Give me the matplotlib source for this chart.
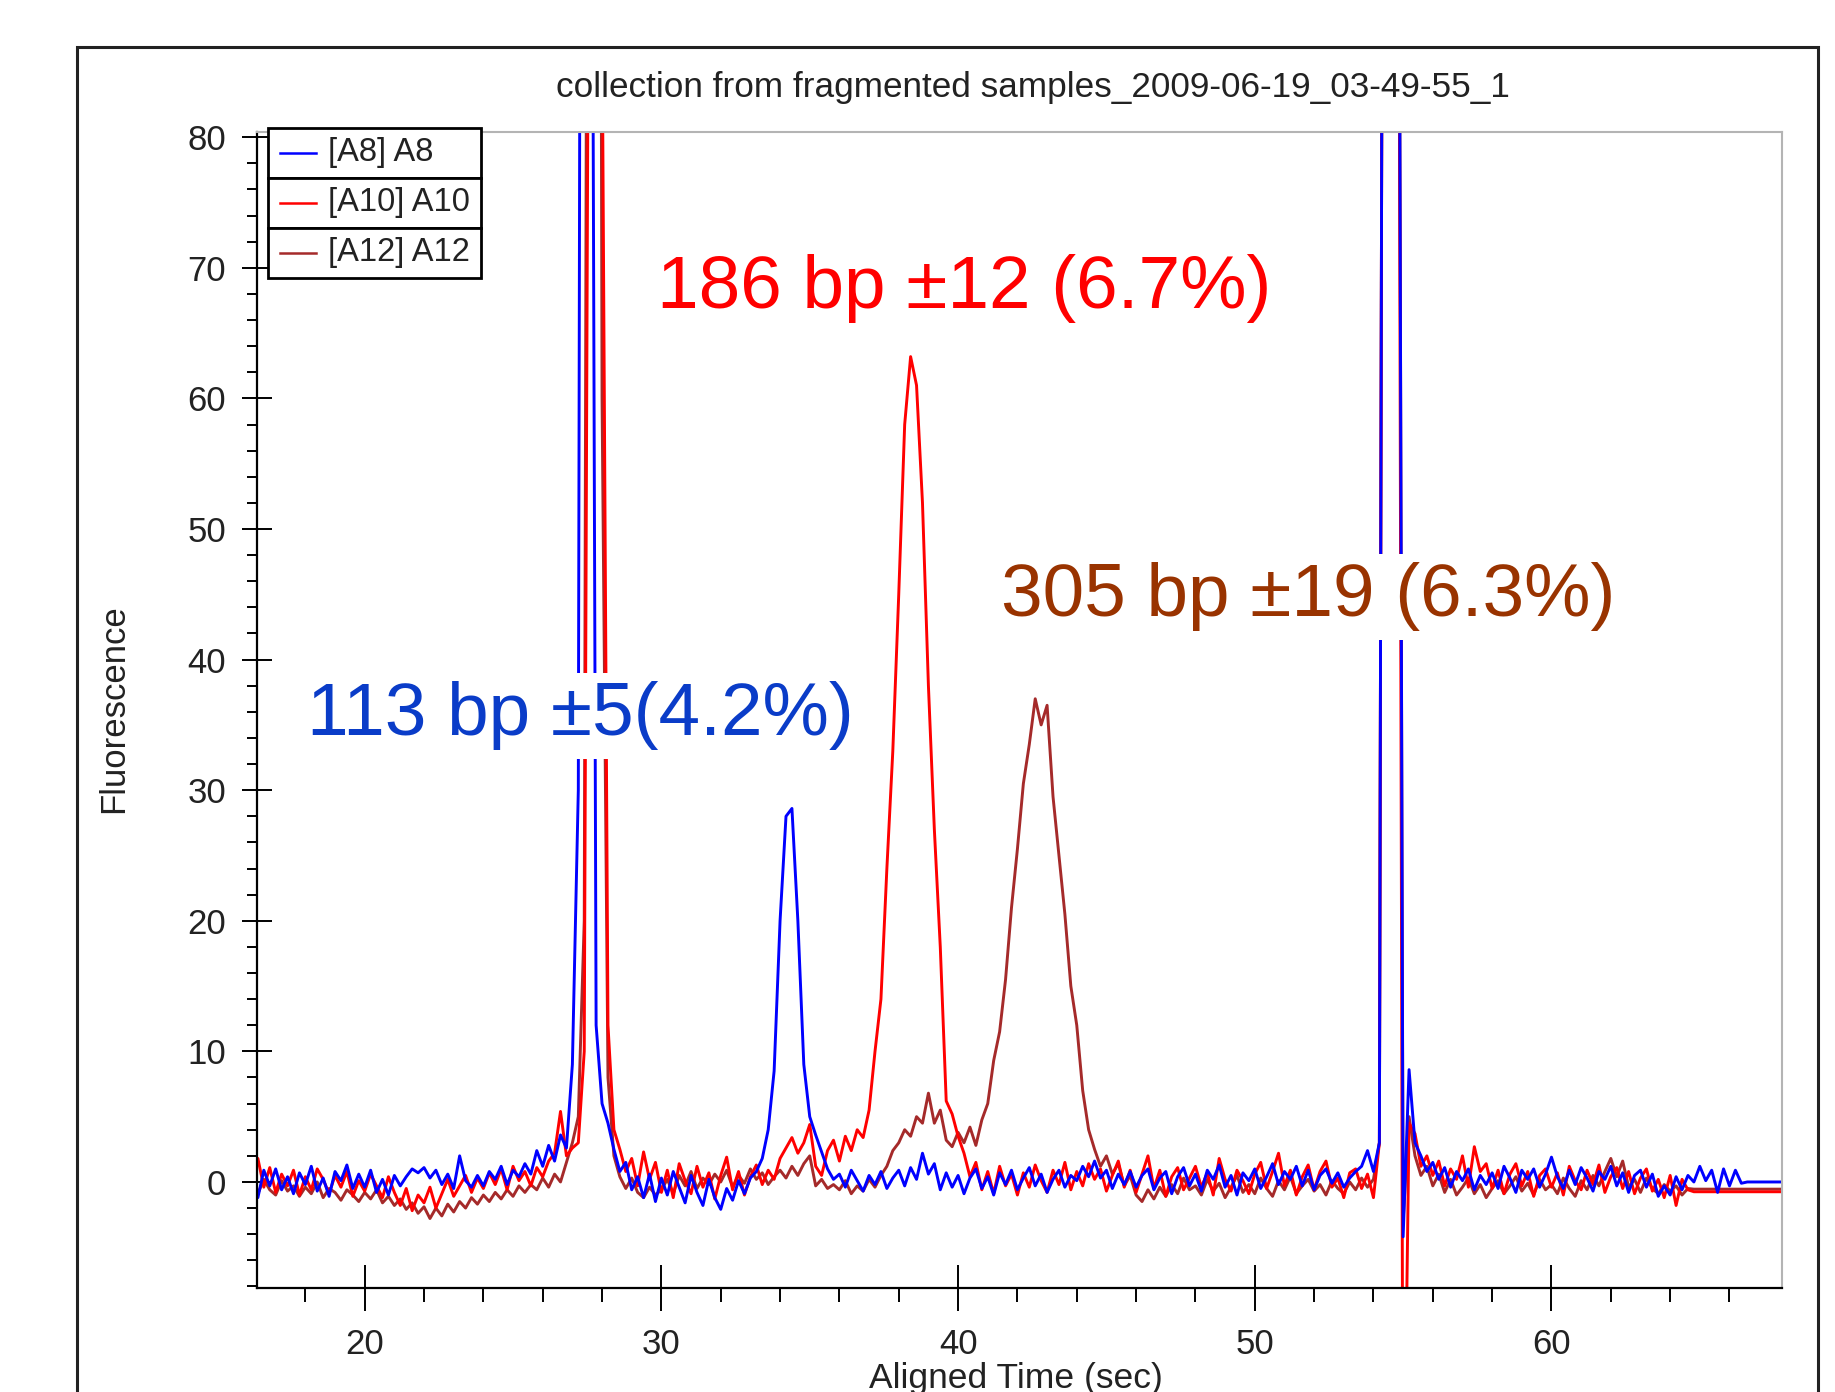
import numpy as np
import matplotlib
matplotlib.use('Agg')
import matplotlib.pyplot as plt
from matplotlib.patches import Rectangle
from matplotlib.lines import Line2D
from matplotlib.ticker import MultipleLocator

plt.rcParams['font.family'] = ['Liberation Sans', 'DejaVu Sans']

# traces are sampled every 0.2 s starting at 16.0 s (one row = 2 s)
t_start = 16.0
t_step = 0.2

a8 = [
    -0.8, 0.5, -1.2, 0.9, -0.3, 1.0, -0.6, 0.4, -0.9, 0.7,
    -0.2, 1.2, -0.7, 0.3, -1.1, 0.8, 0.1, 1.3, -0.5, 0.6,
    -0.4, 0.9, -0.8, 0.2, -1.0, 0.5, -0.3, 0.4, 1.0, 0.7,
    1.1, 0.3, 0.9, -0.2, 0.6, -0.5, 2.0, 0.1, -0.4, 0.5,
    -0.3, 0.8, 0.2, 1.2, -0.2, 0.9, 0.4, 1.4, 0.6, 2.4,
    1.2, 2.8, 1.6, 3.6, 2.6, 9.0, 30, 250, 150, 12,
    6.0, 4.5, 2.5, 0.8, 1.5, -0.6, 0.4, -1.2, 0.6, -1.5,
    0.3, -1.0, 0.8, -0.4, -1.6, 0.5, -0.8, -1.8, 0.2, -1.2,
    -2.1, -0.5, -1.4, 0.1, -0.9, 0.3, 0.8, 1.8, 4.0, 8.5,
    20, 28, 28.6, 20, 9.0, 5.0, 3.6, 2.3, 1.0, 0.2,
    0.6, -0.4, 0.9, 0.1, -0.7, 0.5, -0.2, 0.8, -0.5, 0.3,
    0.9, -0.3, 1.1, 0.2, 2.2, 0.6, 1.4, -0.6, 0.7, -0.4,
    0.5, -0.9, 0.3, 1.0, -0.5, 0.4, -1.0, 0.7, -0.2, 0.9,
    -0.6, 0.3, 1.1, -0.3, 0.6, -0.8, 0.2, 0.9, -0.4, 0.5,
    0.1, 1.2, 0.4, 1.6, 0.3, 0.9, -0.5, 0.6, -0.2, 0.8,
    -0.4, 0.5, 1.0, -0.6, 0.3, 0.8, -0.9, 0.4, 1.1, -0.3,
    0.6, -0.7, 0.9, 0.2, 1.3, -0.4, 0.5, -1.0, 0.7, 0.1,
    1.0, -0.5, 0.4, 1.4, -0.2, 0.8, 0.2, 1.2, -0.3, 0.9,
    -0.6, 0.5, 1.0, -0.1, 0.7, -0.4, 0.3, 0.8, 1.2, 2.4,
    0.8, 3.0, 200, 200, 150, -4.2, 8.6, 3.0, 2.0, 0.8,
    1.5, 0.2, 1.1, -0.4, 0.8, 0.1, 1.0, -0.6, 0.5, -0.2,
    0.7, -0.5, 1.2, 0.3, -0.8, 0.9, 0.2, 1.0, -0.4, 0.6,
    1.9, 0.4, -0.5, 0.9, -0.2, 1.1, 0.3, -0.7, 0.8, 0.2,
    1.2, -0.3, 0.7, -0.8, 0.5, 0.9, -0.4, 0.6, -1.1, -0.3,
    -1.0, 0.4, -0.6, 0.5, 0.0, 1.2, 0.1, 0.9, -0.8, 1.0,
    -0.3, 0.9, -0.1, 0.0, 0.0, 0.0, 0.0, 0.0, 0.0, 0.0,
]

a10 = [
    1.5, 0.3, 1.8, -0.4, 1.1, -0.8, 0.6, -0.3, 0.9, -1.0,
    0.4, -0.6, 1.0, 0.2, -0.9, 0.5, -0.4, 0.8, -1.1, 0.1,
    -0.7, 0.6, -0.3, -1.2, 0.4, -0.8, -1.8, -0.5, -2.2, -1.0,
    -1.6, -0.4, -2.0, -0.9, 0.2, -1.1, -0.3, 0.5, -0.8, 0.3,
    -0.5, 0.7, -0.2, 1.0, -0.6, 1.2, 0.1, 0.8, -0.3, 1.1,
    0.4, 1.6, 2.2, 5.4, 2.0, 2.6, 3.0, 10, 130, 300,
    90, 12, 4.0, 2.5, 0.8, 1.8, -0.3, 2.3, 0.2, 1.5,
    -0.8, 0.9, -1.2, 1.4, 0.1, -0.9, 1.2, -0.4, 0.7, -1.3,
    0.5, 1.9, -0.6, 0.8, -1.0, 0.4, 1.3, -0.2, 0.9, 0.2,
    1.8, 2.6, 3.4, 2.2, 3.0, 4.4, 1.2, 0.5, 2.4, 3.2,
    1.6, 3.5, 2.4, 4.0, 3.4, 5.5, 10, 14, 24, 33,
    45, 58, 63.2, 61, 52, 38, 27, 18, 6.2, 5.2,
    3.5, 2.2, 0.4, 1.5, -0.6, 0.8, -0.9, 1.2, -0.3, 0.6,
    -1.0, 0.7, -0.4, 1.3, 0.1, -0.8, 0.9, -0.2, 1.5, -0.6,
    0.8, -0.3, 1.4, 0.2, 1.0, -0.7, 0.5, 1.6, -0.4, 0.9,
    -0.8, 0.6, 2.0, -0.5, 0.9, -1.1, 0.4, 1.1, -0.6, 0.3,
    1.2, -0.4, 0.7, -1.0, 1.8, 0.2, -0.7, 0.9, 0.1, -0.9,
    0.6, 1.5, -0.5, 0.8, 2.2, -0.3, 0.9, -1.0, 0.4, 1.3,
    -0.6, 0.8, 1.6, -0.4, 0.3, -1.2, 0.7, 1.0, -0.5, 0.6,
    -1.2, 3.0, 200, 200, 150, -30, 4.5, 3.7, 1.2, 2.0,
    0.5, 1.6, -0.3, 1.0, 0.2, 2.0, -0.4, 2.7, 0.8, 1.4,
    -0.5, 0.9, -0.9, 0.6, 1.4, -0.3, 0.8, -1.1, 0.5, 1.0,
    -0.4, 0.7, -1.0, 1.2, 0.1, -0.6, 0.9, -0.2, 1.3, -0.8,
    0.4, 1.1, -0.5, 0.8, -0.9, 0.3, 1.0, -0.7, 0.2, -1.2,
    0.5, -1.8, 0.2, -0.6, -0.75, -0.75, -0.75, -0.75, -0.75, -0.75,
    -0.75, -0.75, -0.75, -0.75, -0.75, -0.75, -0.75, -0.75, -0.75, -0.75,
]

a12 = [
    -0.5, 0.8, -0.9, 0.2, -0.6, -1.0, 0.1, -0.7, -0.3, -1.1,
    -0.4, -0.9, 0.0, -1.2, -0.5, -0.8, -1.4, -0.6, -1.0, -1.5,
    -0.8, -1.3, -0.6, -1.6, -1.1, -1.8, -1.3, -2.1, -1.6, -2.4,
    -1.9, -2.8, -2.0, -2.6, -1.7, -2.3, -1.5, -2.0, -1.2, -1.7,
    -1.0, -1.5, -0.8, -1.3, -0.6, -1.1, -0.3, -0.8, -0.2, -0.6,
    0.3, -0.4, 0.6, 0.0, 1.5, 3.0, 5.0, 20, 200, 250,
    60, 8.0, 2.0, 0.4, -0.5, 0.3, -0.8, -1.2, -0.4, -1.0,
    -0.6, 0.2, -0.9, 0.5, -0.3, 0.8, -0.5, 0.3, -0.2, 0.6,
    0.0, 0.9, -0.4, 0.5, -0.1, 1.0, 0.2, 0.7, -0.2, 0.4,
    0.9, 0.3, 1.2, 0.5, 1.4, 2.0, -0.3, 0.2, -0.5, -0.2,
    -0.6, 0.1, -0.9, -0.3, -0.7, 0.2, -0.4, 0.5, 1.2, 2.4,
    3.0, 4.0, 3.5, 5.0, 4.5, 6.8, 4.5, 5.5, 3.2, 2.7,
    3.8, 3.0, 4.2, 2.8, 4.75, 6.0, 9.3, 11.5, 15.5, 21,
    25.5, 30.5, 33.5, 37.0, 35.0, 36.5, 29.5, 25, 20.5, 15,
    12, 7.0, 4.0, 2.5, 1.2, 2.0, 0.6, 1.4, -0.3, 0.5,
    -1.0, -1.5, -0.6, -1.3, -0.4, -1.1, -0.2, -0.9, 0.3, -0.6,
    -0.3, -1.0, 0.2, -0.7, -0.1, -1.2, -0.4, 0.5, -0.8, -0.2,
    -0.9, 0.3, -0.5, -1.1, 0.1, -0.6, 0.4, -0.9, -0.3, 0.2,
    -0.7, -0.2, -1.0, 0.1, -0.5, -0.9, 0.0, -0.6, 0.3, -0.4,
    0.2, 3.0, 200, 200, 150, -3.0, 5.0, 2.0, 0.5, 1.2,
    -0.3, 0.6, -0.8, 0.2, -1.0, -0.4, 0.3, -0.9, -0.2, -1.2,
    -0.5, 0.1, -0.9, -0.3, 0.4, -0.7, -0.1, -1.0, 0.2, -0.6,
    -0.2, -0.9, 0.3, -0.5, -1.1, 0.1, -0.6, 0.5, -0.3, 0.8,
    1.8, 0.4, 1.6, -0.4, 0.2, -0.8, 0.3, -0.5, -0.9, -0.2,
    -0.7, -0.3, -1.0, -0.5, -0.55, -0.55, -0.55, -0.55, -0.55, -0.55,
    -0.55, -0.55, -0.55, -0.55, -0.55, -0.55, -0.55, -0.55, -0.55, -0.55,
]

labels = ['[A8] A8', '[A10] A10', '[A12] A12']
colors = ['#0000ff', '#ff0000', '#a52a2a']

notes = ['113 bp \u00b15(4.2%)', '186 bp \u00b112 (6.7%)', '305 bp \u00b119 (6.3%)']
note_x = [18.05, 29.85, 41.45]
note_y = [34.2, 66.9, 43.3]
note_colors = ['#0a3cc8', '#ff0000', '#993300']

t = t_start + t_step * np.arange(len(a8))

fig = plt.figure(figsize=(18.35, 13.92), dpi=100)
ax = fig.add_axes([0.14005, 0.07471, 0.83107, 0.83046])

# brown first so blue ends up on top, like the instrument software
for ys, c in zip([a12, a10, a8], colors[::-1]):
    ax.plot(t, ys, color=c, lw=2.1)

ax.set_xlim(16.37, 67.77)
ax.set_ylim(-8.12, 80.4)

for side in ['left', 'bottom']:
    ax.spines[side].set_color('black')
    ax.spines[side].set_linewidth(1.6)
for side in ['top', 'right']:
    ax.spines[side].set_color('#b4b4b4')
    ax.spines[side].set_linewidth(1.5)

ax.xaxis.set_major_locator(MultipleLocator(10))
ax.xaxis.set_minor_locator(MultipleLocator(2))
ax.yaxis.set_major_locator(MultipleLocator(10))
ax.yaxis.set_minor_locator(MultipleLocator(2))
ax.tick_params(axis='x', which='major', direction='inout', length=33, width=1.4,
               pad=12, labelsize=25, labelcolor='#222222')
ax.tick_params(axis='x', which='minor', direction='out', length=10, width=1.4)
ax.tick_params(axis='y', which='major', direction='inout', length=21.6, width=1.4,
               pad=11.5, labelsize=25, labelcolor='#222222')
ax.tick_params(axis='y', which='minor', direction='out', length=7, width=1.4)

for txt, x, y, c in zip(notes, note_x, note_y, note_colors):
    ax.text(x, y, txt, color=c, fontsize=53.8, ha='left', va='baseline',
            bbox=dict(facecolor='white', edgecolor='none', pad=6), zorder=5)

fig.text(0.5630, 0.9303, 'collection from fragmented samples_2009-06-19_03-49-55_1',
         ha='center', va='baseline', fontsize=25.3, color='#222222')
fig.text(0.0619, 0.4907, 'Fluorescence', rotation=90, ha='center', va='center',
         fontsize=25, color='#222222')
fig.text(0.5537, 0.0029, 'Aligned Time (sec)', ha='center', va='baseline',
         fontsize=25.5, color='#222222')

# outer frame of the exported panel
fig.add_artist(Rectangle((0.04196, -0.05), 0.94878, 1.01624, transform=fig.transFigure,
                         fill=False, ec='#222222', lw=2.2))

# legend drawn as a stack of boxed rows
leg_x0, leg_w = 0.14605, 0.11608
leg_top, row_h = 0.90805, 0.03592
for i, (lab, c) in enumerate(zip(labels, colors)):
    y0 = leg_top - (i + 1) * row_h
    yc = y0 + row_h / 2
    fig.add_artist(Rectangle((leg_x0, y0), leg_w, row_h, transform=fig.transFigure,
                             fc='white', ec='black', lw=2.0, zorder=10))
    fig.add_artist(Line2D([0.15259, 0.17221], [yc, yc], transform=fig.transFigure,
                          color=c, lw=1.8, zorder=11))
    fig.text(0.17875, yc, lab, ha='left', va='center', fontsize=23.5,
             color='#222222', zorder=11)

fig.savefig('out.png', dpi=100)
